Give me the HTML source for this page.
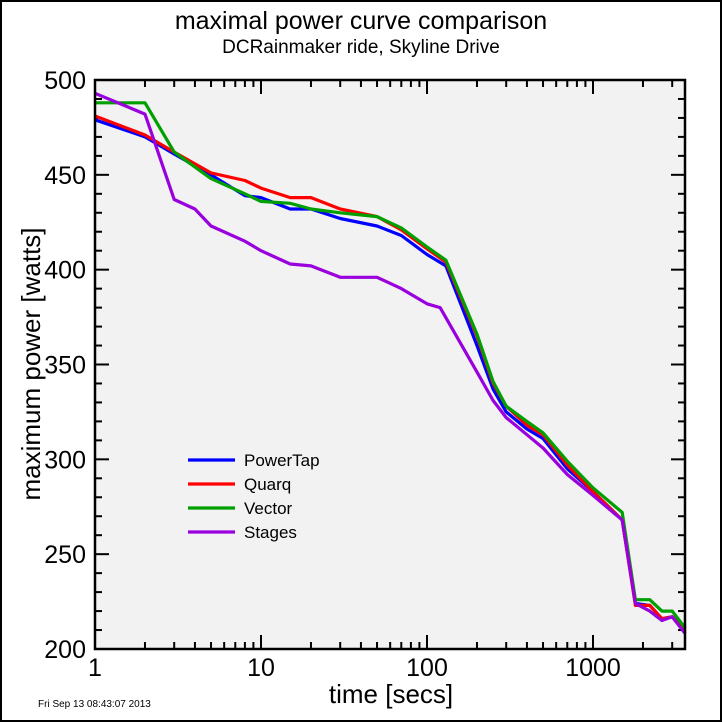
<!DOCTYPE html>
<html><head><meta charset="utf-8"><style>
html,body{margin:0;padding:0;background:#fff}
svg{display:block;font-family:"Liberation Sans",sans-serif}
</style></head><body>
<svg id="chart" width="722" height="722" viewBox="0 0 722 722">
<rect x="1" y="1" width="720" height="720" fill="#fff" stroke="#000" stroke-width="2"/>
<text x="361" y="29" font-size="25" text-anchor="middle">maximal power curve comparison</text>
<text x="361" y="53" font-size="19" text-anchor="middle">DCRainmaker ride, Skyline Drive</text>
<rect x="95" y="80" width="590" height="569" fill="#f2f2f2"/>
<g id="ticks"></g>
<g id="series"></g>
<rect x="95" y="80" width="590" height="569" fill="none" stroke="#000" stroke-width="2.5"/>
<text transform="translate(40,364) rotate(-90)" font-size="26" text-anchor="middle">maximum power [watts]</text>
<text x="391" y="703" font-size="26" text-anchor="middle">time [secs]</text>
<text x="38" y="707" font-size="10">Fri Sep 13 08:43:07 2013</text>
<g id="legend"></g>
</svg>
<script>
const seriesNames=["PowerTap","Quarq","Vector","Stages"];
const seriesColors=["#0000ff","#ff0000","#00a000","#9900dd"];
const tPT=[1,2,3,5,8,10,15,20,30,50,70,100,130,200,250,300,400,500,700,1000,1500,1800,2200,2600,3000,3600];
const wPT=[479,470,461,450,439,438,432,432,427,423,418,408,402,360,337,325,316,311,295,283,268,224,223,216,217,209];
const tQ=[1,2,3,5,8,10,15,20,30,50,70,100,130,200,250,300,400,500,700,1000,1500,1800,2200,2600,3000,3600];
const wQ=[481,471,462,451,447,443,438,438,432,428,421,411,404,365,340,328,318,313,297,283,268,223,223,216,217,209];
const tV=[1,2,3,5,8,10,15,20,30,50,70,100,130,200,250,300,400,500,700,1000,1500,1800,2200,2600,3000,3600];
const wV=[488,488,462,448,440,436,435,432,430,428,422,412,405,366,341,328,320,314,299,285,272,226,226,220,220,211];
const tS=[1,2,3,4,5,8,10,15,20,30,50,70,100,120,200,250,300,400,500,700,1000,1500,1800,2200,2600,3000,3600];
const wS=[493,482,437,432,423,415,410,403,402,396,396,390,382,380,346,331,322,313,306,292,281,268,224,220,215,217,208];
const yTicks=[200,250,300,350,400,450,500];
const xTicks=[1,10,100,1000];
const X0=95,X1=685,Y0=80,Y1=649,PXDEC=166;
const xs=t=>X0+Math.log10(t)*PXDEC;
const ys=w=>Y1-(w-200)*(Y1-Y0)/300;
const NS="http://www.w3.org/2000/svg";
function mk(tag,attrs,parent){const e=document.createElementNS(NS,tag);for(const k in attrs)e.setAttribute(k,attrs[k]);parent.appendChild(e);return e;}
const tg=document.getElementById('ticks');
for(let w=200;w<=500;w+=10){const major=w%50===0,L=major?14:7,y=ys(w);
 const a=mk('line',{x1:X0,y1:y,x2:X0+L,y2:y,stroke:'#000','stroke-width':2},tg);
 
 const b=mk('line',{x1:X1,y1:y,x2:X1-L,y2:y,stroke:'#000','stroke-width':2},tg);
 }
yTicks.forEach(w=>{const t=mk('text',{x:86,y:ys(w)+9,'font-size':25,'text-anchor':'end'},tg);t.textContent=w;
 });
for(let d=0;d<4;d++)for(let m=1;m<10;m++){const t=Math.pow(10,d)*m,x=xs(t);if(x>X1)break;const L=m===1?14:7;
 const a=mk('line',{x1:x,y1:Y1,x2:x,y2:Y1-L,stroke:'#000','stroke-width':2},tg);
 
 const b=mk('line',{x1:x,y1:Y0,x2:x,y2:Y0+L,stroke:'#000','stroke-width':2},tg);
 }
xTicks.forEach(v=>{const t=mk('text',{x:xs(v),y:676,'font-size':25,'text-anchor':'middle'},tg);t.textContent=v;
 });
const sg=document.getElementById('series');
const data=[[tPT,wPT],[tQ,wQ],[tV,wV],[tS,wS]];
data.forEach((d,i)=>{const pts=d[0].map((t,j)=>xs(t).toFixed(1)+','+ys(d[1][j]).toFixed(1)).join(' ');
 const p=mk('polyline',{points:pts,fill:'none',stroke:seriesColors[i],'stroke-width':3.2,'stroke-linejoin':'round'},sg);
 });
const lg=document.getElementById('legend');
seriesNames.forEach((n,i)=>{const y=460+i*24;
 const l=mk('line',{x1:188,y1:y,x2:235,y2:y,stroke:seriesColors[i],'stroke-width':3.2},lg);
 
 const t=mk('text',{x:244,y:y+6,'font-size':17},lg);t.textContent=n;
 });
</script>
</body></html>
